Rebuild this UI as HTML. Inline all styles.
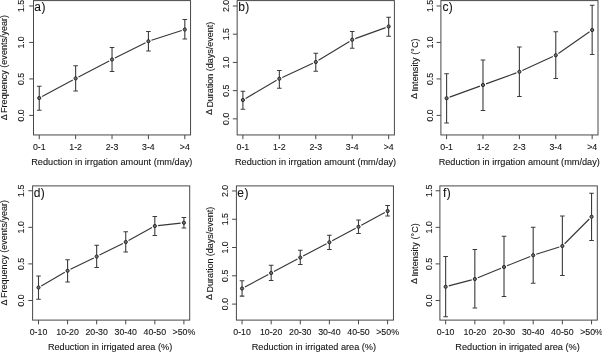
<!DOCTYPE html>
<html><head><meta charset="utf-8"><title>Chart</title>
<style>
html,body{margin:0;padding:0;background:#fff;}
body{width:602px;height:352px;overflow:hidden;}
svg{display:block;filter:blur(0.25px);}
text{font-family:"Liberation Sans",sans-serif;font-size:9.1px;fill:#151515;stroke:#151515;stroke-width:0.1px;}
text.v{font-size:9px;}
text.t{font-size:8.8px;}
</style></head><body>
<svg width="602" height="352" viewBox="0 0 602 352">
<rect width="602" height="352" fill="#fff"/>
<g><rect x="33.5" y="0.6" width="157.05" height="134.35" fill="none" stroke="#484848" stroke-width="1"/>
<path d="M29.20 5.98H33.5M29.20 42.45H33.5M29.20 78.93H33.5M29.20 115.4H33.5M39.25 134.95V139.15M75.64 134.95V139.15M112.03 134.95V139.15M148.42 134.95V139.15M184.81 134.95V139.15" stroke="#484848" stroke-width="1" fill="none"/>
<text transform="translate(24.25 5.98) rotate(-90)" text-anchor="middle" class="t">1.5</text>
<text transform="translate(24.25 42.45) rotate(-90)" text-anchor="middle" class="t">1.0</text>
<text transform="translate(24.25 78.93) rotate(-90)" text-anchor="middle" class="t">0.5</text>
<text transform="translate(24.25 115.4) rotate(-90)" text-anchor="middle" class="t">0.0</text>
<text x="39.25" y="150.05" text-anchor="middle" class="t">0-1</text>
<text x="75.64" y="150.05" text-anchor="middle" class="t">1-2</text>
<text x="112.03" y="150.05" text-anchor="middle" class="t">2-3</text>
<text x="148.42" y="150.05" text-anchor="middle" class="t">3-4</text>
<text x="184.81" y="150.05" text-anchor="middle" class="t">&gt;4</text>
<text class="v" transform="translate(6.75 120.3) rotate(-90)">Δ</text>
<text class="v" transform="translate(7.15 112.90) rotate(-90)" textLength="98.0" lengthAdjust="spacing">Frequency (events/year)</text>
<text x="111.83" y="165.05" text-anchor="middle" textLength="161.2" lengthAdjust="spacingAndGlyphs">Reduction in irrgation amount (mm/day)</text>
<text x="34.3" y="10.5" style="font-size:12px">a<tspan dx="0.4">)</tspan></text>
<path d="M42.07 96.48L72.82 79.92M78.48 76.93L109.19 60.97M114.89 58.07L145.56 42.68M151.47 40.27L181.76 30.48" stroke="#383838" stroke-width="1.15" fill="none"/>
<path d="M39.25 86.25V110.25M36.95 86.25H41.55M36.95 110.25H41.55M75.64 65.8V91M73.34 65.8H77.94M73.34 91H77.94M112.03 47.5V71.5M109.73 47.5H114.33M109.73 71.5H114.33M148.42 31.5V51M146.11999999999998 31.5H150.72M146.11999999999998 51H150.72M184.81 19.5V39M182.51 19.5H187.11M182.51 39H187.11" stroke="#3c3c3c" stroke-width="1.1" fill="none"/>
<circle cx="39.25" cy="98" r="1.6" fill="#707070" stroke="#262626" stroke-width="1.0"/>
<circle cx="75.64" cy="78.4" r="1.6" fill="#707070" stroke="#262626" stroke-width="1.0"/>
<circle cx="112.03" cy="59.5" r="1.6" fill="#707070" stroke="#262626" stroke-width="1.0"/>
<circle cx="148.42" cy="41.25" r="1.6" fill="#707070" stroke="#262626" stroke-width="1.0"/>
<circle cx="184.81" cy="29.5" r="1.6" fill="#707070" stroke="#262626" stroke-width="1.0"/></g>
<g><rect x="237.15" y="0.6" width="157.25" height="134.35" fill="none" stroke="#484848" stroke-width="1"/>
<path d="M232.85 6.0H237.15M232.85 34.2H237.15M232.85 62.4H237.15M232.85 90.65H237.15M232.85 118.85H237.15M242.9 134.95V139.15M279.34 134.95V139.15M315.78 134.95V139.15M352.22 134.95V139.15M388.66 134.95V139.15" stroke="#484848" stroke-width="1" fill="none"/>
<text transform="translate(229.00 6.0) rotate(-90)" text-anchor="middle" class="t">2.0</text>
<text transform="translate(229.00 34.2) rotate(-90)" text-anchor="middle" class="t">1.5</text>
<text transform="translate(229.00 62.4) rotate(-90)" text-anchor="middle" class="t">1.0</text>
<text transform="translate(229.00 90.65) rotate(-90)" text-anchor="middle" class="t">0.5</text>
<text transform="translate(229.00 118.85) rotate(-90)" text-anchor="middle" class="t">0.0</text>
<text x="242.9" y="150.05" text-anchor="middle" class="t">0-1</text>
<text x="279.34" y="150.05" text-anchor="middle" class="t">1-2</text>
<text x="315.78" y="150.05" text-anchor="middle" class="t">2-3</text>
<text x="352.22" y="150.05" text-anchor="middle" class="t">3-4</text>
<text x="388.66" y="150.05" text-anchor="middle" class="t">&gt;4</text>
<text class="v" transform="translate(212.40 115.0) rotate(-90)">Δ</text>
<text class="v" transform="translate(212.80 107.60) rotate(-90)" textLength="85.8" lengthAdjust="spacing">Duration (days/event)</text>
<text x="315.57" y="165.05" text-anchor="middle" textLength="161.2" lengthAdjust="spacingAndGlyphs">Reduction in irrgation amount (mm/day)</text>
<text x="238.15" y="10.5" style="font-size:12px">b<tspan dx="0.4">)</tspan></text>
<path d="M245.66 98.39L276.58 80.36M282.25 77.41L312.87 63.34M318.51 60.33L349.49 41.42M355.23 38.66L385.65 27.59" stroke="#383838" stroke-width="1.15" fill="none"/>
<path d="M242.9 91.25V109.25M240.6 91.25H245.20000000000002M240.6 109.25H245.20000000000002M279.34 70.5V88.25M277.03999999999996 70.5H281.64M277.03999999999996 88.25H281.64M315.78 53.25V71.25M313.47999999999996 53.25H318.08M313.47999999999996 71.25H318.08M352.22 31.5V48.25M349.92 31.5H354.52000000000004M349.92 48.25H354.52000000000004M388.66 17.25V36.25M386.36 17.25H390.96000000000004M386.36 36.25H390.96000000000004" stroke="#3c3c3c" stroke-width="1.1" fill="none"/>
<circle cx="242.9" cy="100" r="1.6" fill="#707070" stroke="#262626" stroke-width="1.0"/>
<circle cx="279.34" cy="78.75" r="1.6" fill="#707070" stroke="#262626" stroke-width="1.0"/>
<circle cx="315.78" cy="62" r="1.6" fill="#707070" stroke="#262626" stroke-width="1.0"/>
<circle cx="352.22" cy="39.75" r="1.6" fill="#707070" stroke="#262626" stroke-width="1.0"/>
<circle cx="388.66" cy="26.5" r="1.6" fill="#707070" stroke="#262626" stroke-width="1.0"/></g>
<g><rect x="440.9" y="0.6" width="157.10" height="134.35" fill="none" stroke="#484848" stroke-width="1"/>
<path d="M436.60 5.98H440.9M436.60 42.45H440.9M436.60 78.93H440.9M436.60 115.4H440.9M446.6 134.95V139.15M482.99 134.95V139.15M519.38 134.95V139.15M555.77 134.95V139.15M592.16 134.95V139.15" stroke="#484848" stroke-width="1" fill="none"/>
<text transform="translate(432.60 5.98) rotate(-90)" text-anchor="middle" class="t">1.5</text>
<text transform="translate(432.60 42.45) rotate(-90)" text-anchor="middle" class="t">1.0</text>
<text transform="translate(432.60 78.93) rotate(-90)" text-anchor="middle" class="t">0.5</text>
<text transform="translate(432.60 115.4) rotate(-90)" text-anchor="middle" class="t">0.0</text>
<text x="446.6" y="150.05" text-anchor="middle" class="t">0-1</text>
<text x="482.99" y="150.05" text-anchor="middle" class="t">1-2</text>
<text x="519.38" y="150.05" text-anchor="middle" class="t">2-3</text>
<text x="555.77" y="150.05" text-anchor="middle" class="t">3-4</text>
<text x="592.16" y="150.05" text-anchor="middle" class="t">&gt;4</text>
<text class="v" transform="translate(417.10 99.0) rotate(-90)">Δ</text>
<text class="v" transform="translate(417.50 91.60) rotate(-90)" textLength="53.15" lengthAdjust="spacing">Intensity (°C)</text>
<text x="519.25" y="165.05" text-anchor="middle" textLength="161.2" lengthAdjust="spacingAndGlyphs">Reduction in irrgation amount (mm/day)</text>
<text x="442.4" y="10.5" style="font-size:12px">c<tspan dx="0.4">)</tspan></text>
<path d="M449.61 97.16L479.98 86.09M486.00 83.91L516.37 72.84M522.29 70.43L552.86 56.57M558.40 53.43L589.53 31.82" stroke="#383838" stroke-width="1.15" fill="none"/>
<path d="M446.6 73.75V123M444.3 73.75H448.90000000000003M444.3 123H448.90000000000003M482.99 60V110.5M480.69 60H485.29M480.69 110.5H485.29M519.38 47V96.5M517.08 47H521.68M517.08 96.5H521.68M555.77 31.75V78.5M553.47 31.75H558.0699999999999M553.47 78.5H558.0699999999999M592.16 5.25V54.5M589.86 5.25H594.4599999999999M589.86 54.5H594.4599999999999" stroke="#3c3c3c" stroke-width="1.1" fill="none"/>
<circle cx="446.6" cy="98.25" r="1.6" fill="#707070" stroke="#262626" stroke-width="1.0"/>
<circle cx="482.99" cy="85" r="1.6" fill="#707070" stroke="#262626" stroke-width="1.0"/>
<circle cx="519.38" cy="71.75" r="1.6" fill="#707070" stroke="#262626" stroke-width="1.0"/>
<circle cx="555.77" cy="55.25" r="1.6" fill="#707070" stroke="#262626" stroke-width="1.0"/>
<circle cx="592.16" cy="30" r="1.6" fill="#707070" stroke="#262626" stroke-width="1.0"/></g>
<g><rect x="32.6" y="185.9" width="157.10" height="134.20" fill="none" stroke="#484848" stroke-width="1"/>
<path d="M28.30 190.77H32.6M28.30 227.35H32.6M28.30 263.9H32.6M28.30 300.5H32.6M38.5 320.1V324.30M67.58 320.1V324.30M96.66 320.1V324.30M125.74 320.1V324.30M154.82 320.1V324.30M183.9 320.1V324.30" stroke="#484848" stroke-width="1" fill="none"/>
<text transform="translate(24.40 190.77) rotate(-90)" text-anchor="middle" class="t">1.5</text>
<text transform="translate(24.40 227.35) rotate(-90)" text-anchor="middle" class="t">1.0</text>
<text transform="translate(24.40 263.9) rotate(-90)" text-anchor="middle" class="t">0.5</text>
<text transform="translate(24.40 300.5) rotate(-90)" text-anchor="middle" class="t">0.0</text>
<text x="38.5" y="335.20" text-anchor="middle" class="t">0-10</text>
<text x="67.58" y="335.20" text-anchor="middle" class="t">10-20</text>
<text x="96.66" y="335.20" text-anchor="middle" class="t">20-30</text>
<text x="125.74" y="335.20" text-anchor="middle" class="t">30-40</text>
<text x="154.82" y="335.20" text-anchor="middle" class="t">40-50</text>
<text x="183.9" y="335.20" text-anchor="middle" class="t">&gt;50%</text>
<text class="v" transform="translate(6.80 305.5) rotate(-90)">Δ</text>
<text class="v" transform="translate(7.20 298.10) rotate(-90)" textLength="98.2" lengthAdjust="spacing">Frequency (events/year)</text>
<text x="110.10" y="350.45" text-anchor="middle" textLength="124.4" lengthAdjust="spacingAndGlyphs">Reduction in irrigated area (%)</text>
<text x="33.75" y="196.5" style="font-size:12px">d<tspan dx="0.4">)</tspan></text>
<path d="M41.27 285.90L64.81 272.35M70.45 269.34L93.79 257.91M99.52 255.07L122.88 243.43M128.54 240.46L152.02 227.54M158.00 225.64L180.72 223.11" stroke="#383838" stroke-width="1.15" fill="none"/>
<path d="M38.5 276V299.2M36.2 276H40.8M36.2 299.2H40.8M67.58 259.75V282M65.28 259.75H69.88M65.28 282H69.88M96.66 245.25V267.5M94.36 245.25H98.96M94.36 267.5H98.96M125.74 231.75V252M123.44 231.75H128.04M123.44 252H128.04M154.82 216.5V235.5M152.51999999999998 216.5H157.12M152.51999999999998 235.5H157.12M183.9 217.5V228M181.6 217.5H186.20000000000002M181.6 228H186.20000000000002" stroke="#3c3c3c" stroke-width="1.1" fill="none"/>
<circle cx="38.5" cy="287.5" r="1.6" fill="#707070" stroke="#262626" stroke-width="1.0"/>
<circle cx="67.58" cy="270.75" r="1.6" fill="#707070" stroke="#262626" stroke-width="1.0"/>
<circle cx="96.66" cy="256.5" r="1.6" fill="#707070" stroke="#262626" stroke-width="1.0"/>
<circle cx="125.74" cy="242" r="1.6" fill="#707070" stroke="#262626" stroke-width="1.0"/>
<circle cx="154.82" cy="226" r="1.6" fill="#707070" stroke="#262626" stroke-width="1.0"/>
<circle cx="183.9" cy="222.75" r="1.6" fill="#707070" stroke="#262626" stroke-width="1.0"/></g>
<g><rect x="236.4" y="185.9" width="157.05" height="134.20" fill="none" stroke="#484848" stroke-width="1"/>
<path d="M232.10 190.97H236.4M232.10 219.25H236.4M232.10 247.5H236.4M232.10 275.8H236.4M232.10 304.1H236.4M242.05 320.1V324.30M271.16 320.1V324.30M300.27 320.1V324.30M329.38 320.1V324.30M358.49 320.1V324.30M387.6 320.1V324.30" stroke="#484848" stroke-width="1" fill="none"/>
<text transform="translate(227.80 190.97) rotate(-90)" text-anchor="middle" class="t">2.0</text>
<text transform="translate(227.80 219.25) rotate(-90)" text-anchor="middle" class="t">1.5</text>
<text transform="translate(227.80 247.5) rotate(-90)" text-anchor="middle" class="t">1.0</text>
<text transform="translate(227.80 275.8) rotate(-90)" text-anchor="middle" class="t">0.5</text>
<text transform="translate(227.80 304.1) rotate(-90)" text-anchor="middle" class="t">0.0</text>
<text x="242.05" y="335.20" text-anchor="middle" class="t">0-10</text>
<text x="271.16" y="335.20" text-anchor="middle" class="t">10-20</text>
<text x="300.27" y="335.20" text-anchor="middle" class="t">20-30</text>
<text x="329.38" y="335.20" text-anchor="middle" class="t">30-40</text>
<text x="358.49" y="335.20" text-anchor="middle" class="t">40-50</text>
<text x="387.6" y="335.20" text-anchor="middle" class="t">&gt;50%</text>
<text class="v" transform="translate(212.40 299.9) rotate(-90)">Δ</text>
<text class="v" transform="translate(212.80 292.50) rotate(-90)" textLength="85.75" lengthAdjust="spacing">Duration (days/event)</text>
<text x="313.88" y="350.45" text-anchor="middle" textLength="124.4" lengthAdjust="spacingAndGlyphs">Reduction in irrigated area (%)</text>
<text x="237.3" y="196.5" style="font-size:12px">e<tspan dx="0.4">)</tspan></text>
<path d="M244.87 287.00L268.34 274.50M273.98 271.50L297.45 259.00M303.10 256.02L326.55 243.73M332.20 240.75L355.67 228.25M361.30 225.23L384.79 212.52" stroke="#383838" stroke-width="1.15" fill="none"/>
<path d="M242.05 280.75V296.1M239.75 280.75H244.35000000000002M239.75 296.1H244.35000000000002M271.16 265.25V280.5M268.86 265.25H273.46000000000004M268.86 280.5H273.46000000000004M300.27 250.25V264.5M297.96999999999997 250.25H302.57M297.96999999999997 264.5H302.57M329.38 235.25V249.5M327.08 235.25H331.68M327.08 249.5H331.68M358.49 220V233.5M356.19 220H360.79M356.19 233.5H360.79M387.6 205.5V216M385.3 205.5H389.90000000000003M385.3 216H389.90000000000003" stroke="#3c3c3c" stroke-width="1.1" fill="none"/>
<circle cx="242.05" cy="288.5" r="1.6" fill="#707070" stroke="#262626" stroke-width="1.0"/>
<circle cx="271.16" cy="273" r="1.6" fill="#707070" stroke="#262626" stroke-width="1.0"/>
<circle cx="300.27" cy="257.5" r="1.6" fill="#707070" stroke="#262626" stroke-width="1.0"/>
<circle cx="329.38" cy="242.25" r="1.6" fill="#707070" stroke="#262626" stroke-width="1.0"/>
<circle cx="358.49" cy="226.75" r="1.6" fill="#707070" stroke="#262626" stroke-width="1.0"/>
<circle cx="387.6" cy="211" r="1.6" fill="#707070" stroke="#262626" stroke-width="1.0"/></g>
<g><rect x="439.9" y="185.9" width="157.40" height="134.20" fill="none" stroke="#484848" stroke-width="1"/>
<path d="M435.60 190.77H439.9M435.60 227.35H439.9M435.60 263.9H439.9M435.60 300.5H439.9M445.65 320.1V324.30M474.83 320.1V324.30M504.01 320.1V324.30M533.19 320.1V324.30M562.37 320.1V324.30M591.55 320.1V324.30" stroke="#484848" stroke-width="1" fill="none"/>
<text transform="translate(431.50 190.77) rotate(-90)" text-anchor="middle" class="t">1.5</text>
<text transform="translate(431.50 227.35) rotate(-90)" text-anchor="middle" class="t">1.0</text>
<text transform="translate(431.50 263.9) rotate(-90)" text-anchor="middle" class="t">0.5</text>
<text transform="translate(431.50 300.5) rotate(-90)" text-anchor="middle" class="t">0.0</text>
<text x="445.65" y="335.20" text-anchor="middle" class="t">0-10</text>
<text x="474.83" y="335.20" text-anchor="middle" class="t">10-20</text>
<text x="504.01" y="335.20" text-anchor="middle" class="t">20-30</text>
<text x="533.19" y="335.20" text-anchor="middle" class="t">30-40</text>
<text x="562.37" y="335.20" text-anchor="middle" class="t">40-50</text>
<text x="591.55" y="335.20" text-anchor="middle" class="t">&gt;50%</text>
<text class="v" transform="translate(417.20 284.0) rotate(-90)">Δ</text>
<text class="v" transform="translate(417.60 276.60) rotate(-90)" textLength="53.4" lengthAdjust="spacing">Intensity (°C)</text>
<text x="517.55" y="350.45" text-anchor="middle" textLength="124.4" lengthAdjust="spacingAndGlyphs">Reduction in irrigated area (%)</text>
<text x="442.9" y="196.5" style="font-size:12px">f<tspan dx="0.4">)</tspan></text>
<path d="M448.74 285.93L471.74 279.82M477.79 277.78L501.05 268.22M506.98 265.80L530.22 256.45M536.24 254.28L559.32 246.97M564.63 243.73L589.29 219.02" stroke="#383838" stroke-width="1.15" fill="none"/>
<path d="M445.65 256.5V316.77M443.34999999999997 256.5H447.95M443.34999999999997 316.77H447.95M474.83 249.5V308M472.53 249.5H477.13M472.53 308H477.13M504.01 236.25V296.5M501.71 236.25H506.31M501.71 296.5H506.31M533.19 227.25V283.25M530.8900000000001 227.25H535.49M530.8900000000001 283.25H535.49M562.37 216V275.5M560.07 216H564.67M560.07 275.5H564.67M591.55 193.25V240.5M589.25 193.25H593.8499999999999M589.25 240.5H593.8499999999999" stroke="#3c3c3c" stroke-width="1.1" fill="none"/>
<circle cx="445.65" cy="286.75" r="1.6" fill="#707070" stroke="#262626" stroke-width="1.0"/>
<circle cx="474.83" cy="279" r="1.6" fill="#707070" stroke="#262626" stroke-width="1.0"/>
<circle cx="504.01" cy="267" r="1.6" fill="#707070" stroke="#262626" stroke-width="1.0"/>
<circle cx="533.19" cy="255.25" r="1.6" fill="#707070" stroke="#262626" stroke-width="1.0"/>
<circle cx="562.37" cy="246" r="1.6" fill="#707070" stroke="#262626" stroke-width="1.0"/>
<circle cx="591.55" cy="216.75" r="1.6" fill="#707070" stroke="#262626" stroke-width="1.0"/></g>
</svg>
</body></html>
